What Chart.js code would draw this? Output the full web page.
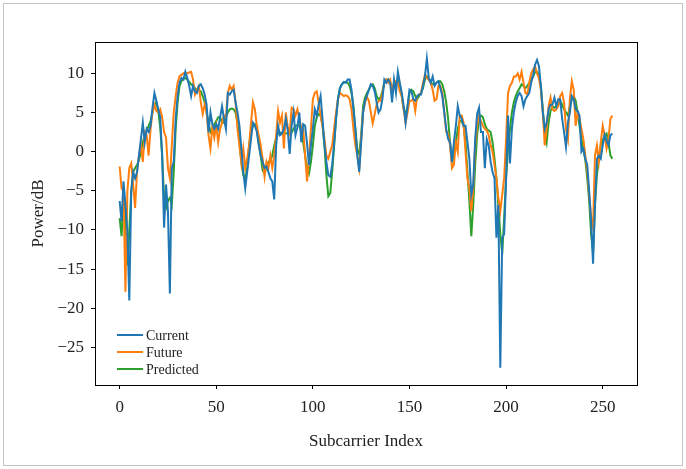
<!DOCTYPE html>
<html>
<head>
<meta charset="utf-8">
<script src="https://cdn.jsdelivr.net/npm/chart.js@4.4.1/dist/chart.umd.min.js"></script>
<style>
  html, body { margin: 0; padding: 0; background: #fff; }
  canvas { display: block; }
</style>
</head>
<body>
<canvas id="powerChart" width="686" height="469"></canvas>
<script>
// subcarrier index 0..255
const subcarriers = Array.from({ length: 256 }, (_, i) => i);

const current = [
  -6.3, -8.9, -3.8, -6.8, -10.1, -19.0, -5.1, -2.6, -3.4, -2.6,
  -0.5, 1.6, 3.7, 1.2, 2.9, 2.5, 3.3, 5.6, 7.5, 6.5,
  5.4, 4.4, -0.5, -9.7, -4.2, -7.6, -18.1, -2.1, -1.3, 4.2,
  7.1, 8.8, 9.4, 9.2, 10.2, 9.4, 8.4, 7.1, 8.4, 7.7,
  7.5, 8.4, 8.6, 8.1, 7.3, 6.0, 2.5, 5.0, 3.5, 2.9,
  3.5, 2.9, 4.4, 5.8, 4.2, 2.9, 7.5, 7.3, 7.7, 7.9,
  6.3, 5.0, 3.3, 0.4, -2.6, -4.7, -2.6, -0.5, 1.6, 3.7,
  3.3, 2.5, 0.8, -0.5, -1.3, -2.1, -1.9, -2.6, -3.4, -3.8,
  -6.1, 0.8, 3.3, 2.1, 2.3, 2.9, 4.2, 2.7, -0.3, 3.3,
  5.0, 2.1, 3.1, 5.0, 1.2, 3.5, 3.3, 1.0, -1.7, 0.8,
  2.9, 5.4, 4.6, 6.0, 7.1, 4.2, 0.8, -1.3, -3.0, -3.2,
  -1.7, 1.0, 4.2, 6.7, 8.1, 8.6, 8.9, 8.8, 9.2, 9.2,
  7.9, 5.4, 2.9, -0.5, -2.6, 1.2, 5.0, 6.5, 7.1, 7.9,
  8.6, 8.4, 7.7, 6.3, 5.0, 5.4, 6.7, 9.2, 8.8, 9.2,
  8.8, 6.3, 9.2, 7.5, 10.2, 8.8, 7.5, 5.8, 3.7, 5.8,
  7.9, 7.7, 6.7, 6.5, 7.1, 7.3, 7.3, 8.4, 9.6, 11.9,
  9.4, 8.8, 9.6, 8.4, 8.8, 9.0, 8.1, 7.1, 5.0, 2.9,
  1.6, 1.2, -1.3, 1.2, 3.3, 5.8, 4.6, 4.2, 3.3, 3.3,
  1.2, -0.9, -5.5, -4.2, 1.6, 4.8, 5.6, 2.5, 2.5, -2.1,
  1.6, 0.8, -1.3, -2.6, -3.4, -11.0, -6.8, -27.6, -11.0, -10.5,
  -3.4, 4.6, -1.5, 2.9, 5.0, 6.3, 7.1, 7.5, 7.1, 5.8,
  6.7, 7.1, 7.5, 8.8, 9.8, 11.1, 11.7, 10.9, 8.4, 5.0,
  2.9, 3.7, 5.4, 6.0, 6.0, 6.9, 5.8, 6.7, 6.7, 4.2,
  2.5, 0.6, 3.7, 5.0, 7.1, 6.7, 5.4, 5.2, 4.6, 0.0,
  0.4, -0.9, -1.7, -5.1, -8.9, -14.3, -6.8, -0.9, -0.5, -0.9,
  0.8, 2.1, 1.4, 0.8, 2.1, 2.3
];

const future = [
  -1.9, -4.7, -5.1, -17.9, -5.1, -2.1, -1.5, -4.2, -7.2, -2.6,
  -0.5, 0.8, -1.3, 2.5, 2.1, -0.5, 2.9, 5.0, 6.0, 5.2,
  5.0, 5.4, 4.4, 2.5, 1.8, -2.1, -3.4, 0.8, 5.0, 7.1,
  8.8, 9.6, 9.8, 10.0, 10.0, 10.0, 10.1, 10.2, 9.2, 7.3,
  7.9, 8.4, 6.3, 4.8, 6.0, 5.0, 2.1, 0.4, 3.3, 1.8,
  3.3, 1.2, 2.9, 3.7, 4.6, 4.4, 7.5, 8.4, 7.9, 8.4,
  6.3, 2.9, 0.8, -1.5, 0.4, -2.1, -0.9, 0.8, 3.7, 6.3,
  5.4, 3.3, 2.1, 0.8, -0.9, -3.2, -1.3, -2.1, -0.5, -2.1,
  -0.5, 2.1, 5.2, 3.7, 4.6, 0.4, 5.0, 3.1, 2.3, 5.6,
  5.4, 4.6, 5.4, 4.2, 3.1, 2.9, -0.5, -3.8, -0.9, 2.9,
  6.7, 7.5, 7.7, 6.3, 4.6, 3.3, 1.6, -0.5, -0.9, 0.0,
  0.8, 2.9, 5.0, 6.7, 7.5, 7.3, 7.1, 7.2, 7.1, 6.7,
  5.4, 2.9, 0.8, -0.5, -2.1, 1.6, 5.0, 6.3, 7.0, 6.5,
  5.0, 3.6, 4.8, 6.0, 6.5, 6.5, 7.5, 8.8, 9.2, 8.8,
  9.2, 7.9, 8.8, 9.0, 8.8, 7.7, 7.1, 5.4, 3.7, 5.0,
  6.5, 6.5, 6.7, 5.2, 7.1, 7.3, 7.5, 8.8, 9.8, 9.4,
  9.2, 8.8, 7.9, 6.5, 6.7, 8.4, 8.4, 7.5, 5.0, 2.5,
  2.3, 0.8, -2.1, -1.7, 1.2, 0.0, 4.6, 4.6, 3.7, 0.0,
  -3.4, -4.7, -7.6, -4.7, 0.8, 3.3, 4.6, 3.9, 3.3, 2.9,
  2.7, 2.1, 0.8, 0.0, -1.7, -3.4, -5.9, -7.6, -5.5, -3.4,
  1.6, 7.5, 8.4, 8.8, 9.6, 9.6, 10.0, 9.2, 10.2, 8.8,
  7.5, 7.3, 8.8, 10.0, 10.5, 10.9, 10.0, 9.4, 7.9, 5.0,
  0.8, 2.9, 5.8, 6.9, 5.4, 5.2, 5.4, 5.8, 7.1, 7.5,
  6.3, 2.9, 1.6, 6.7, 9.0, 7.9, 3.3, 5.0, 4.2, 2.9,
  1.6, -0.5, -2.6, -5.5, -8.4, -9.7, -0.5, 0.8, -1.3, 1.2,
  3.3, 2.1, 0.4, 1.6, 4.2, 4.6
];

const predicted = [
  -8.5, -10.8, -6.3, -8.4, -14.5, -10.1, -5.1, -2.6, -2.1, -1.7,
  -1.1, 0.0, 1.2, 2.1, 2.7, 3.3, 3.9, 5.0, 6.0, 6.3,
  5.2, 3.1, -0.5, -5.9, -7.2, -6.3, -5.9, -6.8, -2.6, 2.9,
  6.3, 8.4, 9.0, 9.3, 9.4, 9.2, 8.9, 8.6, 8.4, 8.1,
  7.9, 7.8, 7.7, 7.1, 6.3, 5.0, 3.7, 2.5, 2.9, 3.5,
  3.9, 4.4, 4.4, 3.7, 3.7, 4.4, 5.0, 5.4, 5.5, 5.4,
  5.0, 3.7, 1.2, -1.3, -3.0, -3.4, -2.1, 0.8, 2.5, 3.3,
  3.5, 2.9, 1.2, -0.5, -2.4, -2.8, -1.9, -1.3, -1.1, -0.5,
  0.8, 1.8, 2.3, 2.4, 2.4, 2.3, 2.3, 2.4, 2.3, 2.4,
  2.9, 3.3, 3.4, 3.3, 2.5, 1.2, -0.5, -2.1, -2.8, -1.3,
  0.8, 3.3, 4.4, 4.8, 4.6, 3.3, 0.8, -3.0, -5.7, -5.3,
  -2.6, 0.8, 4.2, 6.7, 8.1, 8.6, 8.8, 8.9, 8.8, 8.4,
  7.5, 5.8, 2.9, 0.2, -0.3, 2.1, 5.8, 6.9, 7.5, 7.9,
  8.4, 8.6, 8.1, 7.1, 6.7, 6.9, 7.7, 8.8, 9.2, 9.2,
  8.8, 8.1, 8.4, 8.8, 9.0, 8.4, 7.1, 5.4, 4.8, 5.8,
  7.5, 7.9, 7.7, 7.1, 6.7, 7.1, 7.5, 8.1, 9.2, 9.6,
  9.2, 8.8, 8.6, 8.6, 8.8, 9.0, 9.0, 8.6, 7.7, 6.3,
  4.2, 1.2, -1.3, -0.5, 1.2, 2.9, 3.9, 3.9, 3.3, 1.2,
  -2.6, -6.3, -10.8, -6.8, -1.7, 2.1, 4.2, 4.6, 4.4, 3.5,
  2.9, 2.7, 2.5, 1.2, -0.9, -3.4, -6.8, -10.5, -13.1, -8.4,
  -3.4, 0.4, 2.9, 5.0, 6.3, 7.1, 7.7, 8.1, 8.6, 8.4,
  8.1, 8.4, 8.8, 9.2, 9.6, 10.2, 10.2, 9.8, 8.4, 5.4,
  2.5, 1.2, 3.7, 5.2, 5.8, 5.6, 5.8, 6.0, 6.5, 6.0,
  5.4, 5.0, 4.6, 5.8, 6.7, 7.1, 6.5, 5.0, 3.3, 1.6,
  0.4, -1.1, -3.4, -6.3, -10.5, -12.9, -6.8, -3.0, -0.9, 0.8,
  1.4, 2.1, 2.3, 1.2, -0.5, -0.9
];

const xTicks = [0, 50, 100, 150, 200, 250];
const yTicks = [-25, -20, -15, -10, -5, 0, 5, 10];

const FONT = "'Liberation Serif', 'DejaVu Serif', serif";

const toPoints = (ys) => ys.map((y, i) => ({ x: subcarriers[i], y: y }));
const minusSign = (v) => (v < 0 ? "\u2212" + Math.abs(v) : String(v));

// grey figure border, black frame around the plot, legend in the lower left
const frameAndLegend = {
  id: "frameAndLegend",
  beforeDraw(chart) {
    const ctx = chart.ctx;
    ctx.save();
    ctx.fillStyle = "#fff";
    ctx.fillRect(0, 0, chart.width, chart.height);
    ctx.strokeStyle = "#c4c4c4";
    ctx.lineWidth = 1;
    ctx.strokeRect(3.5, 3.5, chart.width - 7, chart.height - 7);
    ctx.restore();
  },
  afterDraw(chart) {
    const ctx = chart.ctx;
    const a = chart.chartArea;
    ctx.save();
    ctx.strokeStyle = "#000";
    ctx.lineWidth = 1;
    ctx.strokeRect(Math.round(a.left) + 0.5, Math.round(a.top) + 0.5,
      Math.round(a.right - a.left), Math.round(a.bottom - a.top));

    ctx.font = "14px " + FONT;
    ctx.textBaseline = "middle";
    ctx.fillStyle = "#222";
    chart.data.datasets.forEach((ds, i) => {
      const y = a.bottom - 50 + i * 17;
      ctx.strokeStyle = ds.borderColor;
      ctx.lineWidth = 2;
      ctx.beginPath();
      ctx.moveTo(a.left + 22, y);
      ctx.lineTo(a.left + 48, y);
      ctx.stroke();
      ctx.fillText(ds.label, a.left + 51, y + 1);
    });
    ctx.restore();
  }
};

const data = {
  datasets: [
    { label: "Current", data: toPoints(current), borderColor: "#1f77b4" },
    { label: "Future", data: toPoints(future), borderColor: "#ff7f0e" },
    { label: "Predicted", data: toPoints(predicted), borderColor: "#2ca02c" }
  ]
};

const config = {
  type: "line",
  data: data,
  options: {
    responsive: false,
    animation: false,
    devicePixelRatio: 1,
    layout: { padding: { left: 28, top: 42, right: 49, bottom: 17 } },
    elements: {
      point: { radius: 0 },
      line: { borderWidth: 2, tension: 0 }
    },
    scales: {
      x: {
        type: "linear",
        min: -12.75,
        max: 267.75,
        afterBuildTicks: (scale) => { scale.ticks = xTicks.map((v) => ({ value: v })); },
        afterFit: (scale) => { scale.height = 67; },
        grid: { drawOnChartArea: false, drawTicks: true, tickLength: 4, tickColor: "#000" },
        border: { display: true, color: "#000" },
        ticks: { color: "#222", font: { family: FONT, size: 17 }, padding: 8, maxRotation: 0 },
        title: { display: true, text: "Subcarrier Index", color: "#222",
          font: { family: FONT, size: 17 }, padding: 0 }
      },
      y: {
        type: "linear",
        min: -29.8,
        max: 14.0,
        afterBuildTicks: (scale) => { scale.ticks = yTicks.map((v) => ({ value: v })); },
        afterFit: (scale) => { scale.width = 67; },
        grid: { drawOnChartArea: false, drawTicks: true, tickLength: 4, tickColor: "#000" },
        border: { display: true, color: "#000" },
        ticks: { color: "#222", font: { family: FONT, size: 17 }, padding: 7,
          callback: (v) => minusSign(v) },
        title: { display: true, text: "Power/dB", color: "#222",
          font: { family: FONT, size: 17 }, padding: 0 }
      }
    },
    plugins: {
      legend: { display: false },
      tooltip: { enabled: false }
    }
  },
  plugins: [frameAndLegend]
};

const ctx = document.getElementById("powerChart").getContext("2d");
const powerChart = new Chart(ctx, config);
</script>
</body>
</html>
